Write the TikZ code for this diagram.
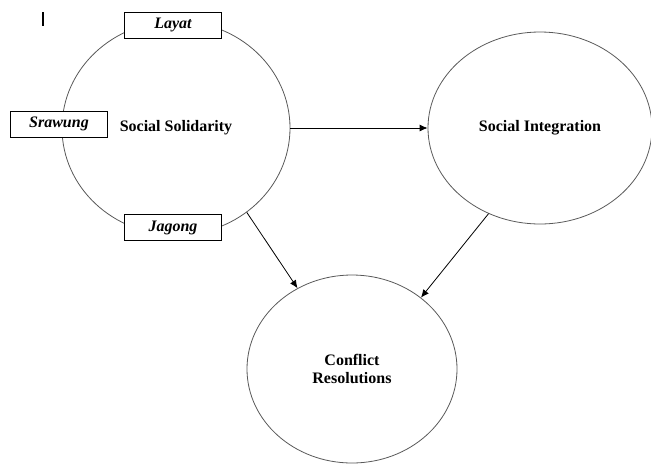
\documentclass[tikz,border=0pt]{standalone}
\usepackage{fontspec}
\setmainfont{Liberation Serif}
\usetikzlibrary{shapes.geometric,arrows.meta}

\begin{document}
\begin{tikzpicture} [x = 1pt, y = -1pt, font = \fontsize{16}{18.5}\selectfont\bfseries]
	\tikzset{bubble/.style = {ellipse, draw = black!65, thick, inner sep = 0pt},
		tag/.style = {rectangle, draw, thick, fill = white, font = \fontsize{16}{18.5}\selectfont\bfseries\itshape, minimum width = 97pt, minimum height = 26pt, inner sep = 0pt},
		link/.style = {thick, -{Latex[length=8pt, width=7pt]}}}
	\useasboundingbox (0,0) rectangle (651,464);
	\draw [line width = 1.6pt] (43,12) -- (43,26);
	\node [bubble, minimum width = 228pt, minimum height = 214pt] (solidarity) at (176,128) {Social Solidarity};
	\node [bubble, minimum width = 224pt, minimum height = 192pt] (integration) at (540,128) {Social Integration};
	\node [bubble, minimum width = 210pt, minimum height = 188pt, align = center] (conflict) at (352,369) {Conflict\\Resolutions};
	%\node at (176,20) {Solidarity};
	\node [tag] (layat) at (173,25) {Layat};
	\node [tag] (srawung) at (59,124) {Srawung};
	\node [tag] (jagong) at (173,227.5) {Jagong};
	\draw [link] (solidarity) -- (integration);
	\draw [link] (solidarity.-50) -- (conflict.124);
	\draw [link] (integration.-121) -- (conflict.46);
\end{tikzpicture}
\end{document}
